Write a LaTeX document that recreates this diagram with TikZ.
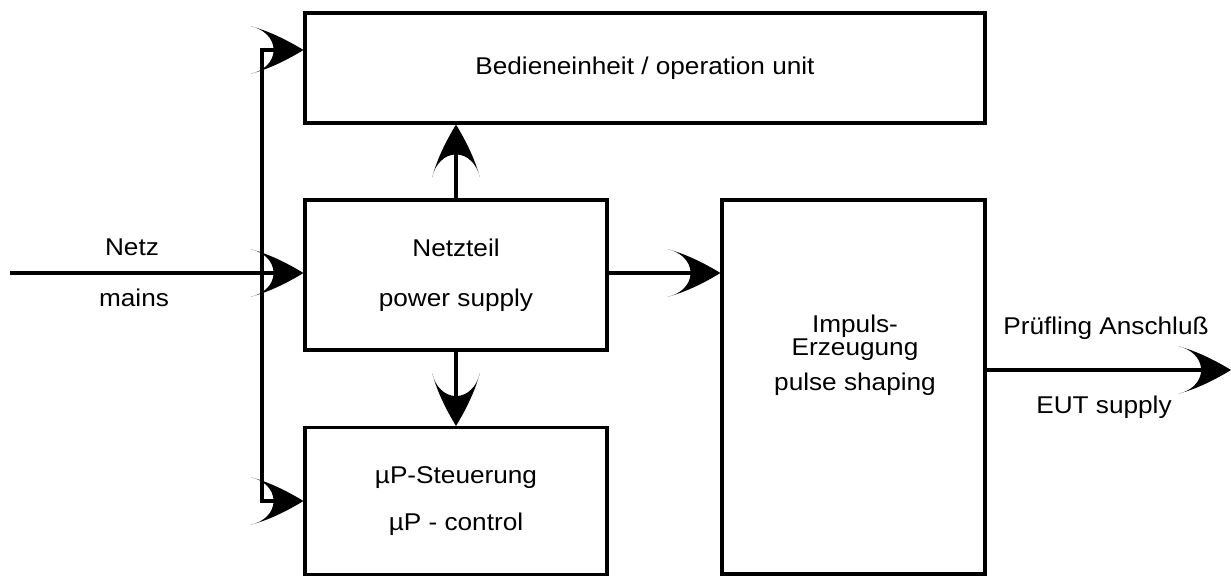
\documentclass[tikz,border=0pt]{standalone}
\usepackage{fontspec}
\setmainfont{Liberation Sans}[FakeStretch=1.08]
\usetikzlibrary{positioning}

% filled arrow head with a hollow back
\pgfdeclarearrow{
  name = swoop,
  setup code = {
    \pgfarrowssettipend{0pt}
    \pgfarrowssetbackend{-30pt}
    \pgfarrowssetlineend{-14pt}
    \pgfarrowshullpoint{0pt}{0pt}
    \pgfarrowshullpoint{-30pt}{13.5pt}
    \pgfarrowshullpoint{-30pt}{-13.5pt}
  },
  drawing code = {
    \pgfpathmoveto{\pgfqpoint{0pt}{0pt}}
    \pgfpathcurveto{\pgfqpoint{-9pt}{5.5pt}}{\pgfqpoint{-20pt}{11pt}}{\pgfqpoint{-30pt}{13.5pt}}
    \pgfpathcurveto{\pgfqpoint{-22.5pt}{12pt}}{\pgfqpoint{-17pt}{6.5pt}}{\pgfqpoint{-17pt}{0pt}}
    \pgfpathcurveto{\pgfqpoint{-17pt}{-6.5pt}}{\pgfqpoint{-22.5pt}{-12pt}}{\pgfqpoint{-30pt}{-13.5pt}}
    \pgfpathcurveto{\pgfqpoint{-20pt}{-11pt}}{\pgfqpoint{-9pt}{-5.5pt}}{\pgfqpoint{0pt}{0pt}}
    \pgfpathclose
    \pgfusepathqfill
  }
}

\begin{document}
\begin{tikzpicture}[x=0.02cm, y=-0.02cm, line width=1.8pt, >=swoop,
    font=\fontsize{13.8}{28.5}\selectfont]
    \tikzset{
        block/.style={draw, inner sep=0pt, align=center},
        txt/.style={align=center, inner sep=0pt}
    }
    \useasboundingbox (0,0) rectangle (1231,575);

    \node [block, minimum width=13.6cm, minimum height=2.2cm] (bedien) at (645,68) {Bedieneinheit / operation unit};
    \node [block, minimum width=6.04cm, minimum height=3cm] (netzteil) at (456,275) {Netzteil\\power supply};
    \node [block, minimum width=6.04cm, minimum height=2.94cm] (steuer) at (456,501) {µP-Steuerung\\[-1.5pt]µP - control};
    \node [block, minimum width=5.26cm, minimum height=7.48cm] (impuls) at (853.5,387) {};
    \node [txt] (impulstxt) at (855,355) {Impuls-\\[-0.55cm]Erzeugung\\[-0.3cm]pulse shaping};

    \coordinate (bustop) at (262,50);
    \coordinate (busbot) at (262,501);
    \coordinate (netz) at (10,273);
    \coordinate (eut) at (1231,370);

    \node [txt] (netzlbl) at (132,247) {Netz};
    \node [txt] (mainslbl) at (134,298) {mains};
    \node [txt] (pruef) at (1106,328) {Prüfling Anschluß};
    \node [txt] (eutlbl) at (1104,407) {EUT supply};

    \draw [<->] (bustop -| bedien.west) -- (bustop) -- (busbot) -- (busbot -| steuer.west);
    \draw [->] (netz) -- (netz -| netzteil.west);
    \draw [->] (netzteil.north) -- (bedien.south -| netzteil.north);
    \draw [->] (netzteil.south) -- (steuer.north);
    \draw [->] (netzteil.east |- netz) -- (netz -| impuls.west);
    \draw [->] (eut -| impuls.east) -- (eut);
\end{tikzpicture}
\end{document}
